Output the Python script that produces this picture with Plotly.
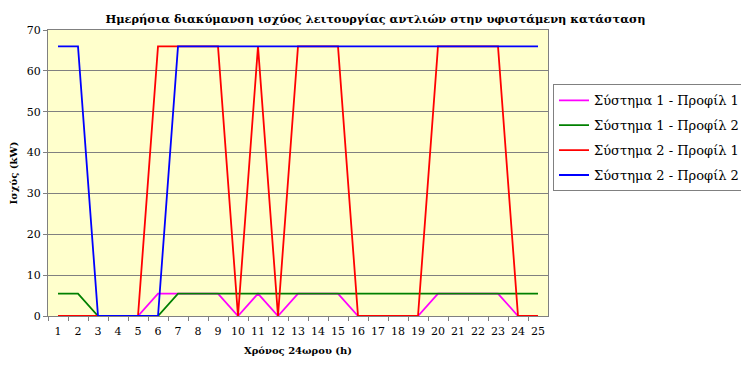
import plotly.graph_objects as go

hours = list(range(1, 26))
s1_p1 = [0, 0, 0, 0, 0, 5.5, 5.5, 5.5, 5.5, 0, 5.5, 0, 5.5, 5.5, 5.5, 0, 0, 0, 0, 5.5, 5.5, 5.5, 5.5, 0, 0]
s1_p2 = [5.5, 5.5, 0, 0, 0, 0, 5.5, 5.5, 5.5, 5.5, 5.5, 5.5, 5.5, 5.5, 5.5, 5.5, 5.5, 5.5, 5.5, 5.5, 5.5, 5.5, 5.5, 5.5, 5.5]
s2_p1 = [0, 0, 0, 0, 0, 66, 66, 66, 66, 0, 66, 0, 66, 66, 66, 0, 0, 0, 0, 66, 66, 66, 66, 0, 0]
s2_p2 = [66, 66, 0, 0, 0, 0, 66, 66, 66, 66, 66, 66, 66, 66, 66, 66, 66, 66, 66, 66, 66, 66, 66, 66, 66]
names = ["Σύστημα 1 - Προφίλ 1", "Σύστημα 1 - Προφίλ 2", "Σύστημα 2 - Προφίλ 1", "Σύστημα 2 - Προφίλ 2"]
colors = ["#FF00FF", "#008000", "#FF0000", "#0000FF"]
series = [s1_p1, s1_p2, s2_p1, s2_p2]

fig = go.Figure()
for i, (n, c, s) in enumerate(zip(names, colors, series)):
    fig.add_trace(go.Scatter(x=hours, y=s, mode="lines", name=n, legendgroup=f"g{i}",
                             line=dict(color=c, width=1.8)))

FONT = "DejaVu Serif"
# page has an 8px body margin: figure is 741x357 placed at (8,8)
fig.update_layout(
    width=741, height=357,
    margin=dict(l=40, r=201, t=22, b=49, autoexpand=False),
    paper_bgcolor="white",
    plot_bgcolor="#FFFFCC",
    font=dict(family=FONT, size=11, color="black"),
    title=dict(text="<b>Ημερήσια διακύμανση ισχύος λειτουργίας αντλιών στην υφιστάμενη κατάσταση</b>",
               x=0.496, xanchor="center", xref="container", y=0.97, yanchor="middle",
               font=dict(family=FONT, size=11.4)),
    legend=dict(x=1.01, xanchor="left", y=0.81, yanchor="top",
                bgcolor="white", bordercolor="#808080", borderwidth=1,
                font=dict(family=FONT, size=13), tracegroupgap=5, traceorder="grouped"),
    showlegend=True,
)
fig.update_xaxes(
    range=[0.5, 25.5], tickmode="array", tickvals=hours, ticktext=[str(h) for h in hours],
    showgrid=False, zeroline=False, automargin=False,
    showline=True, linecolor="#808080", linewidth=1, mirror=True,
    ticks="", tickfont=dict(size=11), ticklabelstandoff=5,
    title=dict(text="<b>Χρόνος 24ωρου (h)</b>", font=dict(size=10), standoff=9),
)
fig.update_xaxes(minor=dict(tickmode="array", tickvals=[h + 0.5 for h in range(0, 25)],
                            ticks="outside", ticklen=4, tickcolor="#808080", showgrid=False))
fig.update_yaxes(
    range=[0, 70], dtick=10, showgrid=True, gridcolor="#808080", gridwidth=1,
    zeroline=False, showline=True, linecolor="#808080", linewidth=1, mirror=True,
    automargin=False,
    ticks="outside", ticklen=4, tickcolor="#808080", tickfont=dict(size=11),
    title=dict(text="<b>Ισχύς (kW)</b>", font=dict(size=10), standoff=10),
)
fig.write_html("out.html")
